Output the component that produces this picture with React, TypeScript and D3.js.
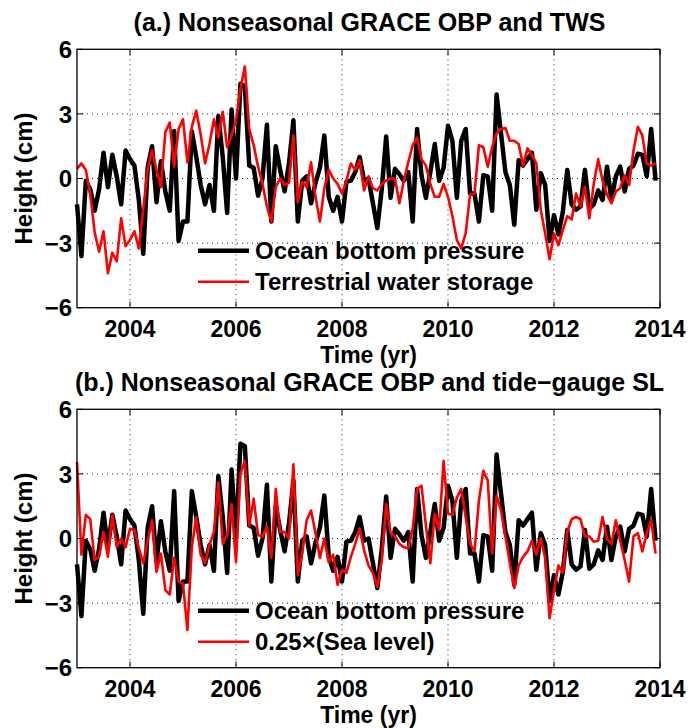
import * as d3 from "d3";

// monthly series starting Jan 2003 (cm)
const startYear = 2003;
const obp = [
  -1.2, -3.6, -0.1, -0.5, -1.5, -0.5, 1.2, -0.4, 1.1, 0.1, -1.2, 1.3,
  0.9, 0.6, -1.0, -3.5, 0.5, 1.5, -1.1, 0.8, -0.6, -1.5, 2.2, -2.9,
  -2.0, -2.0, 2.2, 1.0, -0.3, -1.2, -0.3, -1.5, 2.9, 1.0, -1.6, 3.2,
  0.0, 4.4, 4.3, 0.6, 0.5, -0.8, 0.0, 2.5, -2.0, 1.5, 0.4, -0.6,
  0.7, 2.7, -2.0, -0.1, 0.1, -1.15, -0.2, 0.5, 2.0, -0.85, -1.5, -0.85,
  -2.0, -0.15, -0.1, 0.3, 1.0, -0.1, 0.0, -1.15, -2.3, -0.5, 1.95, -0.9,
  0.45, 0.2, -0.1, 0.3, -2.0, 2.3, 0.15, -0.9, 0.3, 1.6, -0.1, 0.5,
  2.45, 1.75, -0.9, 1.75, 2.3, -0.7, -0.7, -2.0, 0.15, 0.1, -1.5, 3.9,
  2.1, 0.3, -0.3, -2.15, 0.85, 0.6, 0.9, 1.2, -1.45, 0.25, -0.3, -2.9,
  -1.7, -2.6, -1.55, 0.4, -1.2, -1.45, -1.3, 0.4, -1.4, -1.2, -0.55, -1.0,
  0.55, -1.0, 0.1, 0.55, -0.6, 0.45, 0.6, 1.15, 1.1, 0.1, 2.3, -0.1,
];
const tws = [
  0.45, 0.7, 0.4, -0.7, -2.5, -3.4, -2.45, -4.4, -3.45, -3.85, -1.85, -3.15,
  -2.85, -2.45, -3.25, -1.45, 0.45, 1.3, 0.4, -0.4, 2.15, 2.6, 0.55, 2.3,
  2.75, 0.75, 2.4, 3.15, 2.05, 0.7, 1.6, 2.75, 1.9, 3.1, 1.45, 2.0,
  2.7, 4.15, 5.2, 2.3, 1.55, 0.55, -0.25, -1.3, -2.0, -0.4, 0.0, -0.3,
  -0.2, 2.0, -1.1, -0.15, -0.4, 0.75, -0.85, -2.0, -0.45, 0.4, 0.0, -0.25,
  -0.7, -0.1, 0.7, 0.4, 0.85, -0.55, 0.1, -0.45, -0.55, -0.25, -0.1, 0.0,
  0.0, -1.15, -0.1, 0.75, 1.55, 1.9, 0.9, 0.6, -0.25, -0.85, -0.85, -0.25,
  -0.85, -1.75, -2.85, -3.25, -2.55, -0.75, -0.7, 1.55, 1.45, 0.55, 1.45, 2.1,
  2.3, 2.35, 1.75, 1.75, 1.6, 0.6, 1.4, 1.1, 0.7, -1.45, -2.55, -3.75,
  -2.55, -3.1, -2.4, -1.75, -1.9, -0.7, -1.3, -0.4, -1.85, -0.25, 0.9, -0.1,
  -0.75, -1.15, -0.6, -0.45, 0.15, -0.3, 1.3, 2.4, 2.0, 0.7, 0.6, 0.7,
];
const seaLevel = [
  3.55, -0.75, 1.1, 0.9, -1.0, -0.85, 0.3, -0.85, 1.1, -0.4, 0.0, -0.4,
  0.45, 0.4, -0.45, -1.15, -0.1, 0.85, -1.55, -0.7, -2.4, -2.6, -0.9, -2.0,
  -2.1, -4.25, -0.4, 1.0, -0.75, -1.15, -0.3, 0.3, 2.6, -0.25, 0.15, 1.6,
  -1.1, 3.0, 3.6, 0.6, 1.85, 0.15, 0.1, 0.55, -0.9, 2.3, 0.3, 0.3,
  0.0, 3.45, -1.7, -0.7, 0.85, 1.3, 0.25, -0.9, 0.0, -1.1, -0.75, -2.15,
  -1.45, -1.6, -0.85, -0.25, 0.45, -0.55, -1.25, -1.6, -2.25, -1.0, 1.6, 0.25,
  0.1, -0.25, -0.4, -0.45, 0.45, 2.3, 2.45, 0.6, -1.15, 1.15, 0.4, 3.6,
  1.15, 1.1, 1.9, 2.3, 1.0, -0.25, -0.6, 1.75, 3.15, 2.7, -0.7, 2.0,
  1.3, 0.1, -1.15, -2.3, -1.25, -0.85, -0.6, -0.1, -0.75, 0.0, -0.9, -3.7,
  -2.4, -1.25, -1.6, 0.3, 0.9, 1.0, 0.9, 0.1, 0.1, -0.15, -0.1, 1.0,
  0.0, -0.25, 0.85, -0.1, -1.0, -2.0, 0.1, 0.25, -0.6, 0.25, 0.85, -0.7,
];

const xTicks = [2004, 2006, 2008, 2010, 2012, 2014];
const yTicks = [-6, -3, 0, 3, 6];

const font = "'Liberation Sans', Arial, Helvetica, sans-serif";
const W = 691;
const H = 728;
const left = 77;
const right = 660;

type PanelProps = {
  top: number;
  title: string;
  red: number[];
  redLabel: string;
};

const Panel = ({ top, title, red, redLabel }: PanelProps) => {
  const bottom = top + 258.4;
  const x = d3.scaleLinear().domain([2003, 2014]).range([left, right]);
  const y = d3.scaleLinear().domain([-6, 6]).range([bottom, top]);
  const line = d3
    .line<number>()
    .x((d, i) => x(startYear + i / 12))
    .y((d) => y(d));

  const fmt = (v: number) => (v < 0 ? `\u2212${Math.abs(v)}` : `${v}`);
  const legX = 198;
  const legY1 = top + 201.4;
  const legY2 = top + 232.4;

  return (
    <g>
      <text
        x={(left + right) / 2 + 1}
        y={top - 18.5}
        textAnchor="middle"
        fontSize={25}
        fontWeight="bold"
      >
        {title}
      </text>

      {/* grid */}
      {xTicks.slice(0, -1).map((t) => (
        <line
          key={"gx" + t}
          x1={x(t)}
          x2={x(t)}
          y1={top}
          y2={bottom}
          stroke="#222"
          strokeWidth={1}
          strokeDasharray="1,4"
        />
      ))}
      {yTicks.slice(1, -1).map((t) => (
        <line
          key={"gy" + t}
          x1={left}
          x2={right}
          y1={y(t)}
          y2={y(t)}
          stroke="#222"
          strokeWidth={1}
          strokeDasharray="1,4"
        />
      ))}

      {/* data */}
      <path
        d={line(obp) ?? ""}
        fill="none"
        stroke="#000"
        strokeWidth={4.5}
        strokeLinejoin="round"
      />
      <path
        d={line(red) ?? ""}
        fill="none"
        stroke="#ff0000"
        strokeWidth={2.6}
        strokeLinejoin="round"
      />

      {/* box + ticks */}
      <rect
        x={left}
        y={top}
        width={right - left}
        height={bottom - top}
        fill="none"
        stroke="#000"
        strokeWidth={1.3}
      />
      {xTicks.map((t) => (
        <g key={"tx" + t}>
          <line x1={x(t)} x2={x(t)} y1={bottom} y2={bottom - 6} stroke="#000" />
          <line x1={x(t)} x2={x(t)} y1={top} y2={top + 6} stroke="#000" />
          <text
            x={x(t)}
            y={bottom + 29}
            textAnchor="middle"
            fontSize={23}
            fontWeight="bold"
          >
            {t}
          </text>
        </g>
      ))}
      {yTicks.map((t) => (
        <g key={"ty" + t}>
          <line x1={left} x2={left + 6} y1={y(t)} y2={y(t)} stroke="#000" />
          <line x1={right} x2={right - 6} y1={y(t)} y2={y(t)} stroke="#000" />
          <text
            x={left - 5}
            y={y(t)}
            dy="0.36em"
            textAnchor="end"
            fontSize={24}
            fontWeight="bold"
          >
            {fmt(t)}
          </text>
        </g>
      ))}
      <text
        x={(left + right) / 2}
        y={bottom + 55.5}
        textAnchor="middle"
        fontSize={23}
        fontWeight="bold"
      >
        Time (yr)
      </text>
      <text
        transform={`translate(32,${(top + bottom) / 2}) rotate(-90)`}
        textAnchor="middle"
        fontSize={24}
        fontWeight="bold"
      >
        Height (cm)
      </text>

      {/* legend */}
      <line x1={legX} x2={legX + 51} y1={legY1} y2={legY1} stroke="#000" strokeWidth={4.5} />
      <text x={legX + 57} y={legY1} dy="0.35em" fontSize={24} fontWeight="bold">
        Ocean bottom pressure
      </text>
      <line x1={legX} x2={legX + 51} y1={legY2} y2={legY2} stroke="#ff0000" strokeWidth={2.6} />
      <text x={legX + 57} y={legY2} dy="0.35em" fontSize={24} fontWeight="bold">
        {redLabel}
      </text>
    </g>
  );
};

export default function App() {
  return (
    <svg
      width={W}
      height={H}
      style={{ position: "absolute", left: 0, top: 0, background: "#fff" }}
      fontFamily={font}
    >
      <Panel
        top={49.3}
        title="(a.) Nonseasonal GRACE OBP and TWS"
        red={tws}
        redLabel="Terrestrial water storage"
      />
      <Panel
        top={409.3}
        title={"(b.) Nonseasonal GRACE OBP and tide\u2212gauge SL"}
        red={seaLevel}
        redLabel={"0.25\u00d7(Sea level)"}
      />
    </svg>
  );
}
